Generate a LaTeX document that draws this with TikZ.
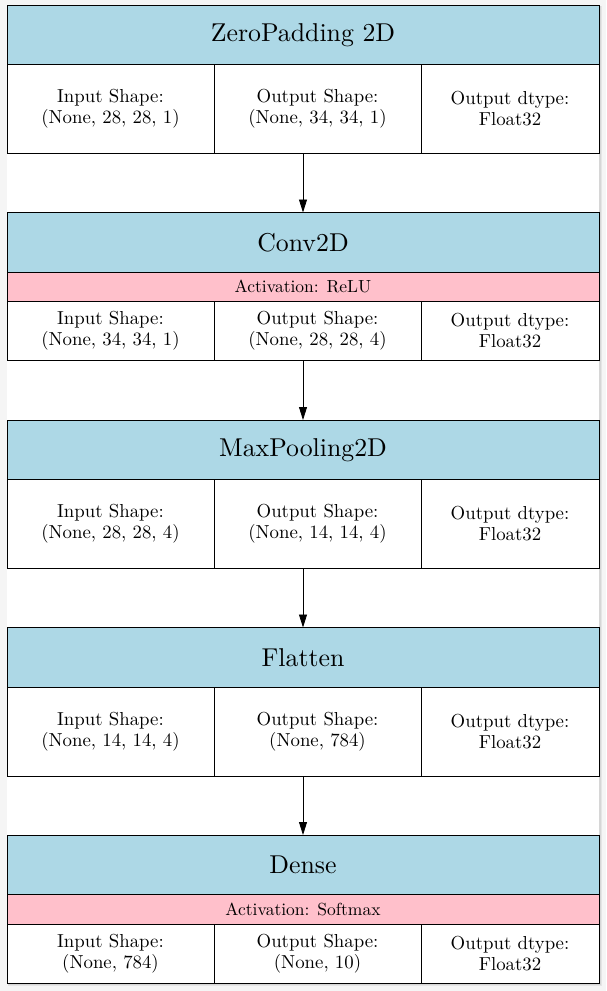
\documentclass[tikz,border=0pt]{standalone}
\usepackage{fontspec}
\setmainfont{lmroman10-regular}[Extension=.otf]
\usetikzlibrary{arrows.meta}
\definecolor{hdrblue}{HTML}{ADD8E6}
\definecolor{actpink}{HTML}{FFC0CB}
\begin{document}
\begin{tikzpicture}[x=1pt,y=-1pt,
  cell/.style={draw, line width=0.8pt, anchor=north west, inner sep=0pt, outer sep=0pt, align=center, font=\fontsize{18.8}{21}\selectfont},
  hdr/.style={cell, fill=hdrblue, minimum width=592pt, minimum height=59.5pt, font=\fontsize{25.8}{29}\selectfont},
  actbar/.style={cell, fill=actpink, minimum width=592pt, minimum height=29.5pt, font=\fontsize{17.5}{20}\selectfont},
  wc/.style={cell, fill=white, minimum width=207pt},
  nc/.style={cell, fill=white, minimum width=178pt},
  arr/.style={-{Triangle[length=13pt,width=8pt]}, line width=0.8pt}]
\useasboundingbox (0,0) rectangle (606,991);
% page background and shadow
\fill[black!4] (0,0) rectangle (606,991);
\fill[black!10] (8,6) rectangle (601.5,986);
\fill[black!16] (8,6) rectangle (600.5,984.5);
\fill[white] (7,5) rectangle (599,983);
% block 1
\node[hdr] (b1h) at (7,5) {ZeroPadding 2D};
\node[wc, minimum height=89pt] (b1i) at (7,64.5) {Input Shape:\\(None, 28, 28, 1)};
\node[wc, minimum height=89pt] (b1o) at (214,64.5) {Output Shape:\\(None, 34, 34, 1)};
\node[nc, minimum height=89pt] (b1d) at (421,64.5) {Output dtype:\\Float32};
% block 2
\node[hdr] (b2h) at (7,212.5) {Conv2D};
\node[actbar] (b2a) at (7,272) {Activation: ReLU};
\node[wc, minimum height=59pt] (b2i) at (7,301.5) {Input Shape:\\(None, 34, 34, 1)};
\node[wc, minimum height=59pt] (b2o) at (214,301.5) {Output Shape:\\(None, 28, 28, 4)};
\node[nc, minimum height=59pt] (b2d) at (421,301.5) {Output dtype:\\Float32};
% block 3
\node[hdr] (b3h) at (7,420) {MaxPooling2D};
\node[wc, minimum height=89pt] (b3i) at (7,479.5) {Input Shape:\\(None, 28, 28, 4)};
\node[wc, minimum height=89pt] (b3o) at (214,479.5) {Output Shape:\\(None, 14, 14, 4)};
\node[nc, minimum height=89pt] (b3d) at (421,479.5) {Output dtype:\\Float32};
% block 4
\node[hdr] (b4h) at (7,627.5) {Flatten};
\node[wc, minimum height=89pt] (b4i) at (7,687) {Input Shape:\\(None, 14, 14, 4)};
\node[wc, minimum height=89pt] (b4o) at (214,687) {Output Shape:\\(None, 784)};
\node[nc, minimum height=89pt] (b4d) at (421,687) {Output dtype:\\Float32};
% block 5
\node[hdr] (b5h) at (7,835) {Dense};
\node[actbar] (b5a) at (7,894.5) {Activation: Softmax};
\node[wc, minimum height=59pt] (b5i) at (7,924) {Input Shape:\\(None, 784)};
\node[wc, minimum height=59pt] (b5o) at (214,924) {Output Shape:\\(None, 10)};
\node[nc, minimum height=59pt] (b5d) at (421,924) {Output dtype:\\Float32};
% arrows
\draw[arr] (b1h.center |- b1o.south) -- (b2h.north);
\draw[arr] (b2h.center |- b2o.south) -- (b3h.north);
\draw[arr] (b3h.center |- b3o.south) -- (b4h.north);
\draw[arr] (b4h.center |- b4o.south) -- (b5h.north);
\end{tikzpicture}
\end{document}
